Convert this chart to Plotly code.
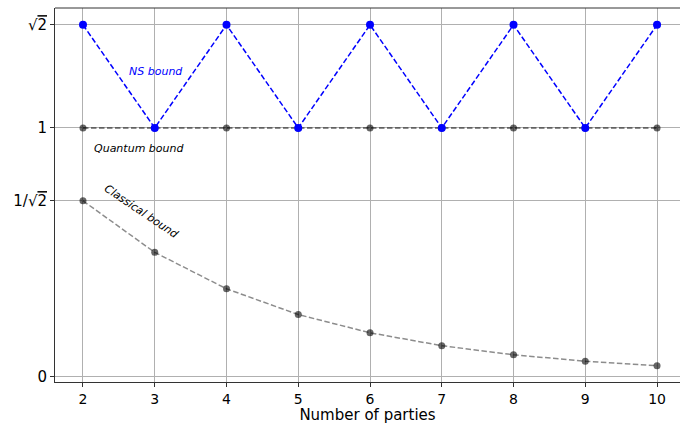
import plotly.graph_objects as go

parties = [2, 3, 4, 5, 6, 7, 8, 9, 10]
ns_bound = [1.4142, 1.0, 1.4142, 1.0, 1.4142, 1.0, 1.4142, 1.0, 1.4142]
quantum_bound = [1.0, 1.0, 1.0, 1.0, 1.0, 1.0, 1.0, 1.0, 1.0]
classical_bound = [0.7071, 0.5, 0.3536, 0.25, 0.1768, 0.125, 0.0884, 0.0625, 0.0442]
ytick_vals = [0, 0.7071, 1.0, 1.4142]
ytick_text = ["0", "1/√<span style='text-decoration:overline'>2</span>", "1",
              "√<span style='text-decoration:overline'>2</span>"]

font = "DejaVu Sans"
dash = "5.5px,2.5px"
fig = go.Figure()
fig.add_trace(go.Scatter(x=parties, y=quantum_bound, mode="lines+markers",
                         line=dict(color="rgba(0,0,0,0.6)", dash=dash, width=1.5),
                         marker=dict(color="rgba(0,0,0,0.6)", size=7)))
fig.add_trace(go.Scatter(x=parties, y=classical_bound, mode="lines+markers",
                         line=dict(color="rgba(0,0,0,0.45)", dash=dash, width=1.5),
                         marker=dict(color="rgba(0,0,0,0.6)", size=7)))
fig.add_trace(go.Scatter(x=parties, y=ns_bound, mode="lines+markers",
                         line=dict(color="blue", dash=dash, width=1.5),
                         marker=dict(color="blue", size=8)))

fig.add_annotation(x=3.02, y=1.225, text="<i>NS bound</i>", showarrow=False,
                   font=dict(family=font, size=11, color="blue"))
fig.add_annotation(x=2.78, y=0.918, text="<i>Quantum bound</i>", showarrow=False,
                   font=dict(family=font, size=11, color="black"))
fig.add_annotation(x=2.81, y=0.663, text="<i>Classical bound</i>", showarrow=False,
                   textangle=34, font=dict(family=font, size=11, color="black"))

fig.update_layout(
    width=680, height=424,
    margin=dict(l=55, r=0, t=8, b=42),
    paper_bgcolor="white", plot_bgcolor="white",
    showlegend=False,
    font=dict(family=font, size=14, color="black"),
    xaxis=dict(range=[1.61, 10.32], tickvals=parties, showgrid=True,
               gridcolor="#b0b0b0", gridwidth=0.8, zeroline=False,
               showline=True, linecolor="#333", linewidth=1, mirror=False,
               ticks="outside", ticklen=4, tickcolor="#333",
               tickfont=dict(size=14),
               title=dict(text="Number of parties", font=dict(size=15), standoff=3)),
    yaxis=dict(range=[-0.021, 1.482], tickvals=ytick_vals, ticktext=ytick_text,
               showgrid=True, gridcolor="#b0b0b0", gridwidth=0.8, zeroline=False,
               showline=True, linecolor="#333", linewidth=1, mirror=False,
               ticks="outside", ticklen=4, tickcolor="#333",
               tickfont=dict(size=15)),
)
fig.add_shape(type="line", xref="paper", yref="paper", x0=0, x1=1, y0=1, y1=1,
              line=dict(color="#333", width=1))
fig.write_html("out.html")
